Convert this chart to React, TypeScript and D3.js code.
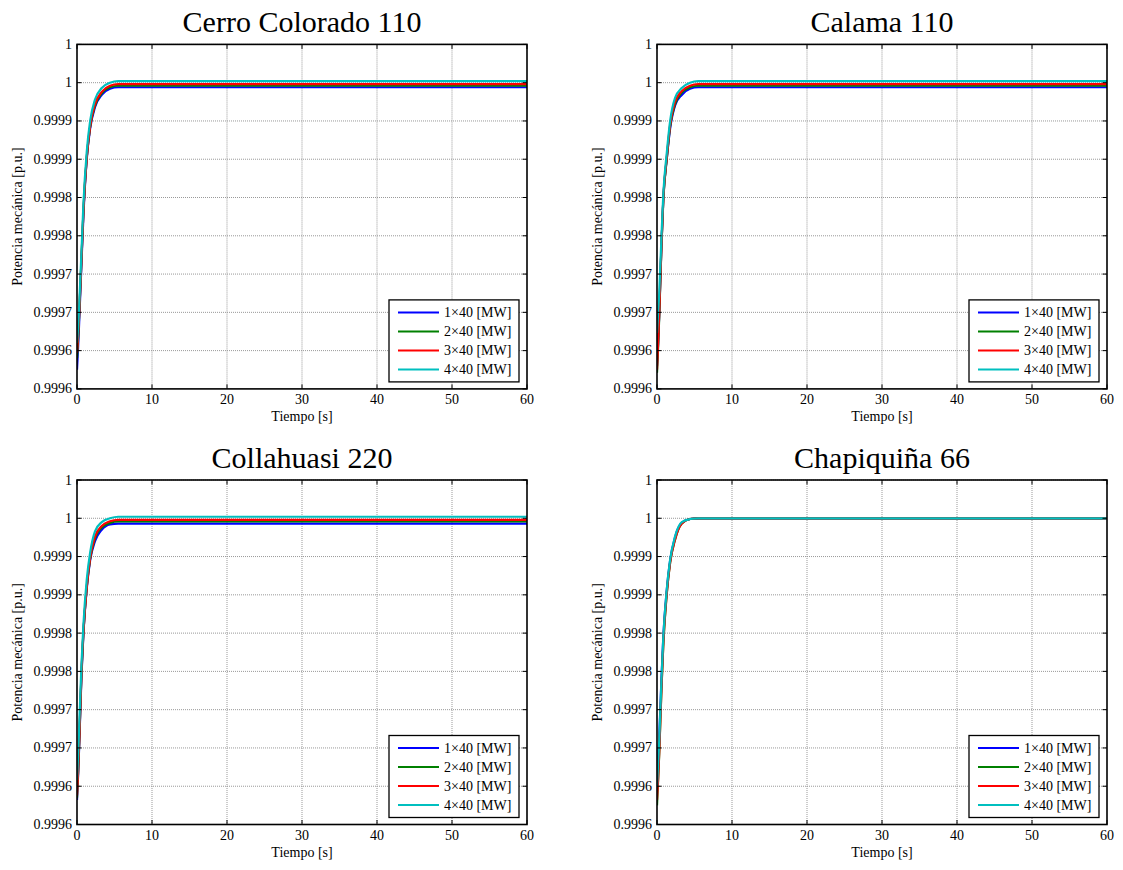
import React from "react";
import * as d3 from "d3";

const TIME = [0, 0.15, 0.3, 0.6, 0.85, 1.3, 1.75, 2.4, 3.3, 4.4, 5.5, 60];

const SERIES_NAMES = ["1×40 [MW]", "2×40 [MW]", "3×40 [MW]", "4×40 [MW]"];
const SERIES_COLORS = ["#0000ff", "#008000", "#ff0000", "#00bfbf"];

const X_TICKS = [0, 10, 20, 30, 40, 50, 60];
const Y_TICKS = [0.99955, 0.9996, 0.99965, 0.9997, 0.99975, 0.9998, 0.99985, 0.9999, 0.99995, 1.0];
const Y_TICK_LABELS = ["0.9996", "0.9996", "0.9997", "0.9997", "0.9998", "0.9998", "0.9999", "0.9999", "1", "1"];

// Cerro Colorado 110
const cerroBlue = [0.999575, 0.999605, 0.99964, 0.999715, 0.999775, 0.99985, 0.99989, 0.999918, 0.999934, 0.999942, 0.999944, 0.999944];
const cerroGreen = [0.99959, 0.999615, 0.999648, 0.99972, 0.99978, 0.999852, 0.999892, 0.99992, 0.999936, 0.999944, 0.999946, 0.999946];
const cerroRed = [0.999597, 0.99962, 0.99965, 0.99972, 0.99978, 0.999852, 0.999893, 0.999922, 0.999938, 0.999946, 0.999948, 0.999948];
const cerroCyan = [0.99961, 0.99963, 0.99966, 0.99973, 0.99979, 0.99986, 0.9999, 0.999928, 0.999943, 0.99995, 0.999952, 0.999952];

// Calama 110
const calamaBlue = [0.99958, 0.99961, 0.999648, 0.99974, 0.9998, 0.99985, 0.99989, 0.99992, 0.999934, 0.999942, 0.999944, 0.999944];
const calamaGreen = [0.999571, 0.999605, 0.999645, 0.999738, 0.999798, 0.99985, 0.999893, 0.999922, 0.999937, 0.999944, 0.999946, 0.999946];
const calamaRed = [0.999575, 0.99961, 0.99965, 0.99974, 0.9998, 0.999852, 0.999895, 0.999925, 0.999939, 0.999946, 0.999948, 0.999948];
const calamaCyan = [0.999623, 0.99965, 0.999675, 0.99975, 0.999806, 0.999858, 0.9999, 0.99993, 0.999943, 0.99995, 0.999952, 0.999952];

// Collahuasi 220
const collaBlue = [0.999582, 0.999615, 0.999655, 0.999745, 0.999798, 0.999858, 0.999895, 0.99992, 0.999935, 0.999942, 0.999943, 0.999943];
const collaGreen = [0.999585, 0.999618, 0.999658, 0.999748, 0.9998, 0.99986, 0.999897, 0.999924, 0.999938, 0.999944, 0.999946, 0.999946];
const collaRed = [0.999588, 0.99962, 0.99966, 0.99975, 0.9998, 0.99986, 0.999898, 0.999926, 0.99994, 0.999946, 0.999948, 0.999948];
const collaCyan = [0.999608, 0.99964, 0.99968, 0.99976, 0.99981, 0.99987, 0.999905, 0.999933, 0.999945, 0.99995, 0.999952, 0.999952];

// Chapiquiña 66
const chapiBlue = [0.99961, 0.999635, 0.999665, 0.999742, 0.999797, 0.999856, 0.999895, 0.999925, 0.999944, 0.999949, 0.99995, 0.99995];
const chapiGreen = [0.999575, 0.999608, 0.999643, 0.999728, 0.999787, 0.999851, 0.999892, 0.999922, 0.999943, 0.999949, 0.99995, 0.99995];
const chapiRed = [0.999582, 0.99961, 0.999645, 0.99973, 0.999788, 0.999852, 0.999892, 0.999922, 0.999943, 0.999949, 0.99995, 0.99995];
const chapiCyan = [0.999599, 0.99963, 0.99966, 0.99974, 0.999796, 0.999857, 0.999896, 0.999926, 0.999945, 0.999949, 0.99995, 0.99995];

const PANEL_TITLES = ["Cerro Colorado 110", "Calama 110", "Collahuasi 220", "Chapiquiña 66"];
const PANEL_SERIES = [
  [cerroBlue, cerroGreen, cerroRed, cerroCyan],
  [calamaBlue, calamaGreen, calamaRed, calamaCyan],
  [collaBlue, collaGreen, collaRed, collaCyan],
  [chapiBlue, chapiGreen, chapiRed, chapiCyan],
];

const FONT = "'Liberation Serif', 'Times New Roman', serif";

type PanelProps = { idx: number; left: number; top: number; width: number; height: number };

function Panel({ idx, left, top, width, height }: PanelProps) {
  const x = d3.scaleLinear().domain([0, 60]).range([left, left + width]);
  const y = d3.scaleLinear().domain([0.99955, 1.0]).range([top + height, top]);
  const line = d3
    .line<number>()
    .x((_, i) => x(TIME[i]))
    .y((d) => y(d))
    .curve(d3.curveMonotoneX);
  const clipId = `clip-${idx}`;
  const tickLen = 4.5;
  const bottom = top + height;
  const right = left + width;
  const legW = 130;
  const legH = 82;
  const legX = right - 8 - legW;
  const legY = bottom - 7 - legH;
  return (
    <g>
      <defs>
        <clipPath id={clipId}>
          <rect x={left} y={top} width={width} height={height} />
        </clipPath>
      </defs>
      <rect x={left} y={top} width={width} height={height} fill="#fff" />
      {/* grid */}
      {X_TICKS.slice(1, -1).map((t) => (
        <line key={"gx" + t} x1={x(t)} x2={x(t)} y1={top} y2={bottom} stroke="#999" strokeWidth={1} strokeDasharray="1,1" />
      ))}
      {Y_TICKS.slice(1).map((t) => (
        <line key={"gy" + t} x1={left} x2={right} y1={y(t)} y2={y(t)} stroke="#999" strokeWidth={1} strokeDasharray="1,1" />
      ))}
      {/* series */}
      <g clipPath={`url(#${clipId})`}>
        {PANEL_SERIES[idx].map((s, i) => (
          <path key={i} d={line(s) || ""} fill="none" stroke={SERIES_COLORS[i]} strokeWidth={2.2} />
        ))}
      </g>
      {/* ticks */}
      {X_TICKS.map((t) => (
        <g key={"tx" + t}>
          <line x1={x(t)} x2={x(t)} y1={bottom} y2={bottom - tickLen} stroke="#000" />
          <line x1={x(t)} x2={x(t)} y1={top} y2={top + tickLen} stroke="#000" />
          <text x={x(t)} y={bottom + 15} textAnchor="middle" fontSize={14} fontFamily={FONT}>
            {t}
          </text>
        </g>
      ))}
      {Y_TICKS.map((t, i) => (
        <g key={"ty" + t}>
          <line x1={left} x2={left + tickLen} y1={y(t)} y2={y(t)} stroke="#000" />
          <line x1={right} x2={right - tickLen} y1={y(t)} y2={y(t)} stroke="#000" />
          <text x={left - 5} y={y(t) + 4.5} textAnchor="end" fontSize={14} fontFamily={FONT}>
            {Y_TICK_LABELS[i]}
          </text>
        </g>
      ))}
      {/* box */}
      <rect x={left} y={top} width={width} height={height} fill="none" stroke="#000" strokeWidth={1.6} />
      {/* labels */}
      <text x={(left + right) / 2} y={top - 12.5} textAnchor="middle" fontSize={30} fontFamily={FONT}>
        {PANEL_TITLES[idx]}
      </text>
      <text x={(left + right) / 2} y={bottom + 32} textAnchor="middle" fontSize={14} fontFamily={FONT}>
        Tiempo [s]
      </text>
      <text
        transform={`translate(${left - 55},${(top + bottom) / 2}) rotate(-90)`}
        textAnchor="middle"
        fontSize={14}
        fontFamily={FONT}
      >
        Potencia mecánica [p.u.]
      </text>
      {/* legend */}
      <rect x={legX} y={legY} width={legW} height={legH} fill="#fff" stroke="#000" strokeWidth={1.3} />
      {SERIES_NAMES.map((n, i) => {
        const ly = legY + 12.5 + i * 19;
        return (
          <g key={n}>
            <line x1={legX + 9} x2={legX + 50} y1={ly} y2={ly} stroke={SERIES_COLORS[i]} strokeWidth={2} />
            <text x={legX + 55} y={ly + 5} fontSize={14} fontFamily={FONT}>
              {n}
            </text>
          </g>
        );
      })}
    </g>
  );
}

export default function App() {
  const W = 1123;
  const H = 870;
  const lefts = [77, 657];
  const tops = [44.4, 480];
  const pw = 450;
  const ph = 344.5;
  return (
    <svg width={W} height={H} style={{ position: "absolute", left: 0, top: 0, background: "#fff" }}>
      <rect x={0} y={0} width={W} height={H} fill="#fff" />
      {[0, 1, 2, 3].map((i) => (
        <Panel key={i} idx={i} left={lefts[i % 2]} top={tops[Math.floor(i / 2)]} width={pw} height={ph} />
      ))}
    </svg>
  );
}
